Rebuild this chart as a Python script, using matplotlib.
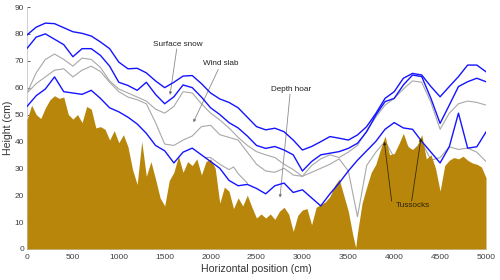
import matplotlib
matplotlib.use("Agg")
import matplotlib.pyplot as plt

plt.rcParams['font.family'] = ['Liberation Sans', 'DejaVu Sans']

# horizontal positions (cm) for the layer lines
pos = list(range(0, 5001, 100))

surface = [79.6, 82.5, 84.0, 83.8, 82.3, 80.8, 80.2, 79.2, 77.0, 74.5,
           69.5, 67.0, 67.2, 65.5, 62.5, 60.0, 62.0, 64.3, 64.5, 61.5,
           58.0, 55.8, 54.5, 52.5, 49.0, 45.5, 44.3, 44.9, 43.6, 40.5,
           36.8, 38.1, 39.9, 41.8, 41.2, 40.5, 42.4, 45.5, 50.4, 56.0,
           58.5, 63.5, 65.3, 64.7, 60.4, 56.6, 60.4, 64.1, 68.4, 68.4, 65.9]

wind_slab = [74.6, 78.8, 80.0, 78.0, 76.0, 71.5, 74.5, 74.5, 72.0, 68.0,
             62.0, 60.8, 59.0, 62.0, 57.5, 54.0, 56.6, 61.0, 60.0, 56.5,
             52.5, 50.0, 47.0, 45.0, 42.0, 38.5, 37.4, 38.1, 36.8, 35.0,
             29.0, 32.5, 35.0, 35.6, 36.2, 37.4, 39.3, 43.6, 49.8, 54.8,
             56.0, 61.0, 64.7, 64.1, 56.0, 46.7, 53.5, 60.4, 62.2, 63.5, 62.2]

gray_a = [58.0, 65.5, 70.5, 72.5, 70.5, 68.0, 71.0, 70.5, 67.5, 62.5,
          59.5, 58.0, 56.5, 55.0, 52.0, 50.5, 53.0, 58.5, 58.0, 54.0,
          50.5, 48.0, 45.0, 41.5, 38.5, 36.2, 35.0, 34.0, 31.5, 29.5,
          27.0, 31.0, 33.5, 35.0, 34.0, 36.0, 38.5, 44.0, 49.0, 53.5,
          56.0, 59.5, 62.5, 62.0, 54.5, 44.5, 50.5, 54.0, 55.0, 54.5, 53.5]

gray_b = [58.0, 61.5, 64.0, 66.5, 67.0, 64.0, 66.5, 68.0, 66.0, 62.0,
          58.5, 56.5, 55.5, 54.0, 47.0, 39.0, 38.5, 40.5, 42.0, 45.5,
          46.0, 42.5, 41.5, 40.5, 36.0, 31.5, 29.0, 28.5, 30.0, 27.5,
          27.0, 28.5, 30.0, 31.5, 33.5, 29.0, 12.0, 31.0, 36.0, 40.0,
          34.0, 40.0, 36.0, 40.0, 33.0, 34.0, 38.0, 37.0, 37.5, 36.0, 32.5]

gray_c_pos = [1950, 2000, 2100, 2200, 2250, 2300, 2400]
gray_c = [34.0, 34.0, 31.5, 29.5, 30.5, 28.0, 24.5]

depth_hoar = [53.0, 57.0, 59.5, 64.0, 58.5, 58.0, 57.5, 59.0, 56.0, 52.5,
              51.0, 49.0, 46.5, 43.0, 38.5, 36.5, 32.0, 36.0, 37.5, 35.0,
              32.5, 30.0, 25.5, 23.5, 24.0, 22.5, 20.5, 23.5, 24.5, 21.0,
              22.0, 19.0, 16.0, 20.5, 24.5, 29.0, 33.0, 36.5, 40.0, 44.5,
              47.0, 45.0, 44.5, 40.0, 36.0, 32.0, 38.0, 50.5, 37.5, 38.0, 43.5]

ground_pos = list(range(0, 3551, 50)) + [3580] + list(range(3600, 5001, 50))
ground = [48.0, 53.5, 50.0, 48.5, 52.5, 55.5, 57.0, 56.0, 56.5, 50.0,
          48.3, 50.0, 47.0, 53.0, 52.0, 45.0, 45.5, 44.5, 40.5, 44.0,
          39.5, 42.5, 38.0, 29.5, 24.0, 40.0, 27.0, 32.5, 26.0, 19.0,
          16.0, 25.5, 28.5, 34.5, 28.5, 32.5, 31.0, 33.5, 27.5, 32.5,
          33.5, 30.0, 17.0, 23.0, 21.5, 15.0, 19.0, 16.0, 20.0, 15.5,
          11.5, 13.0, 11.5, 13.0, 11.0, 14.0, 15.5, 13.0, 6.5, 12.5,
          14.5, 15.0, 9.0, 15.5, 16.5, 17.5, 19.5, 23.5, 26.0, 20.0,
          14.0, 5.0, 0.5,
          6.0, 17.0, 23.0, 28.5, 31.5, 37.0, 42.0, 35.0, 35.5, 39.0,
          43.0, 38.0, 37.0, 38.5, 42.5, 33.5, 35.0, 30.0, 21.5, 31.0,
          33.0, 34.0, 33.5, 34.5, 33.0, 32.0, 31.5, 30.5, 26.5]

xticks = list(range(0, 5001, 500))
yticks = list(range(0, 91, 10))

fig = plt.figure(figsize=(5, 2.8), dpi=100)
ax = fig.add_axes([0.054, 0.111, 0.918, 0.864])

gray = '#a8a8a8'
blue = '#1414ff'
ax.plot(pos, gray_a, color=gray, lw=0.8, zorder=2)
ax.plot(pos, gray_b, color=gray, lw=0.8, zorder=2)
ax.plot(gray_c_pos, gray_c, color=gray, lw=0.8, zorder=2)
ax.fill_between(ground_pos, 0, ground, color='#b8860b', lw=0, zorder=3)
ax.plot(pos, surface, color=blue, lw=1.0, zorder=4)
ax.plot(pos, wind_slab, color=blue, lw=1.0, zorder=4)
ax.plot(pos, depth_hoar, color=blue, lw=1.0, zorder=4)

ax.set_xlim(0, 5000)
ax.set_ylim(0, 90)
ax.set_xticks(xticks)
ax.set_yticks(yticks)
ax.tick_params(axis='y', labelsize=6, colors='#404040', direction='in',
               length=2, width=0.6, pad=2)
ax.tick_params(axis='x', labelsize=6, colors='#404040', length=0, pad=4)
for s in ['top', 'right']:
    ax.spines[s].set_visible(False)
for s in ['left', 'bottom']:
    ax.spines[s].set_color('#c8c8c8')
    ax.spines[s].set_linewidth(0.6)
ax.set_xlabel('Horizontal position (cm)', fontsize=7.6, color='#333333', labelpad=1.5)
ax.set_ylabel('Height (cm)', fontsize=7.6, color='#333333', labelpad=1)

arrow = dict(arrowstyle='-|>', fc='black', ec='#8a8a8a', lw=0.6,
             mutation_scale=4, shrinkA=0, shrinkB=0)
fs = 5.9
ax.text(1645, 76.2, 'Surface snow', fontsize=fs, ha='center', va='center', color='#222222')
ax.annotate('', xy=(1558, 57.3), xytext=(1631, 74.4), arrowprops=arrow)
ax.text(2108, 68.8, 'Wind slab', fontsize=fs, ha='center', va='center', color='#222222')
ax.annotate('', xy=(1812, 47.1), xytext=(2084, 66.8), arrowprops=arrow)
ax.text(2876, 59.3, 'Depth hoar', fontsize=fs, ha='center', va='center', color='#222222')
ax.annotate('', xy=(2756, 19.1), xytext=(2865, 57.6), arrowprops=arrow)

tarrow = dict(arrowstyle='-|>', fc='black', ec='#3a2c08', lw=0.6,
              mutation_scale=4, shrinkA=0, shrinkB=0)
ax.text(4199, 16.2, 'Tussocks', fontsize=fs, ha='center', va='center', color='#2a2208', zorder=6)
ax.annotate('', xy=(3892, 39.9), xytext=(3972, 17.8), arrowprops=tarrow, zorder=6)
ax.annotate('', xy=(4292, 41.2), xytext=(4190, 17.8), arrowprops=tarrow, zorder=6)

fig.savefig('out.png', dpi=100)
